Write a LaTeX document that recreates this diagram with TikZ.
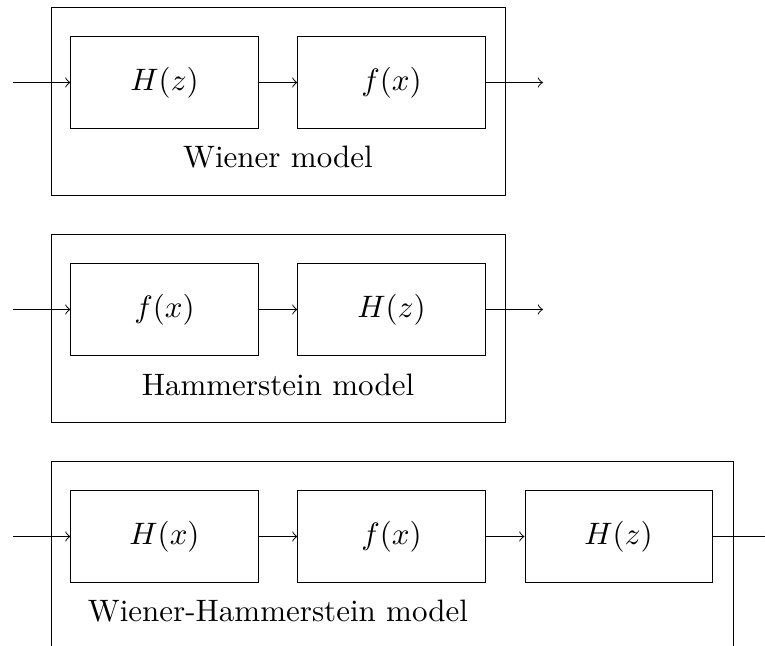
\documentclass[tikz,border=0pt]{standalone}
\usetikzlibrary{arrows}
\begin{document}
\begin{tikzpicture}[x=0.3226pt,y=-0.3226pt,line width=0.32pt,
  blockbox/.style={draw,minimum width=60.33pt,minimum height=30pt,inner sep=0pt},
  outerbox/.style={draw,inner sep=0pt},
  lbl/.style={inner sep=0pt,font=\normalsize},
  sig/.style={->}]
\path[use as bounding box,clip] (0,0) rectangle (765,646);
% ---------- Wiener model ----------
\node[outerbox,minimum width=146.46pt,minimum height=60.97pt] (o1) at (278,101.5) {};
\node[blockbox] (a1) at (164.5,82.5) {$H(z)$};
\node[blockbox] (b1) at (391.5,82.5) {$f(x)$};
\node[lbl] (l1) at (278,157.5) {Wiener model};
\coordinate (in1) at (13,82.5);
\coordinate (out1) at (543,82.5);
\draw[sig] (in1) -- (a1);
\draw[sig] (a1) -- (b1);
\draw[sig] (b1) -- (out1);
% ---------- Hammerstein model ----------
\node[outerbox,minimum width=146.46pt,minimum height=60.97pt] (o2) at (278,328.5) {};
\node[blockbox] (a2) at (164.5,309.5) {$f(x)$};
\node[blockbox] (b2) at (391.5,309.5) {$H(z)$};
\node[lbl] (l2) at (278,384.5) {Hammerstein model};
\coordinate (in2) at (13,309.5);
\coordinate (out2) at (543,309.5);
\draw[sig] (in2) -- (a2);
\draw[sig] (a2) -- (b2);
\draw[sig] (b2) -- (out2);
% ---------- Wiener-Hammerstein model ----------
\node[outerbox,minimum width=220.01pt,minimum height=60.97pt] (o3) at (392,555.5) {};
\node[blockbox] (a3) at (164.5,536.5) {$H(x)$};
\node[blockbox] (b3) at (391.5,536.5) {$f(x)$};
\node[blockbox] (c3) at (618.5,536.5) {$H(z)$};
\node[lbl] (l3) at (278,611.5) {Wiener-Hammerstein model};
\coordinate (in3) at (13,536.5);
\coordinate (out3) at (770,536.5);
\draw[sig] (in3) -- (a3);
\draw[sig] (a3) -- (b3);
\draw[sig] (b3) -- (c3);
\draw[sig] (c3) -- (out3);
\end{tikzpicture}
\end{document}
